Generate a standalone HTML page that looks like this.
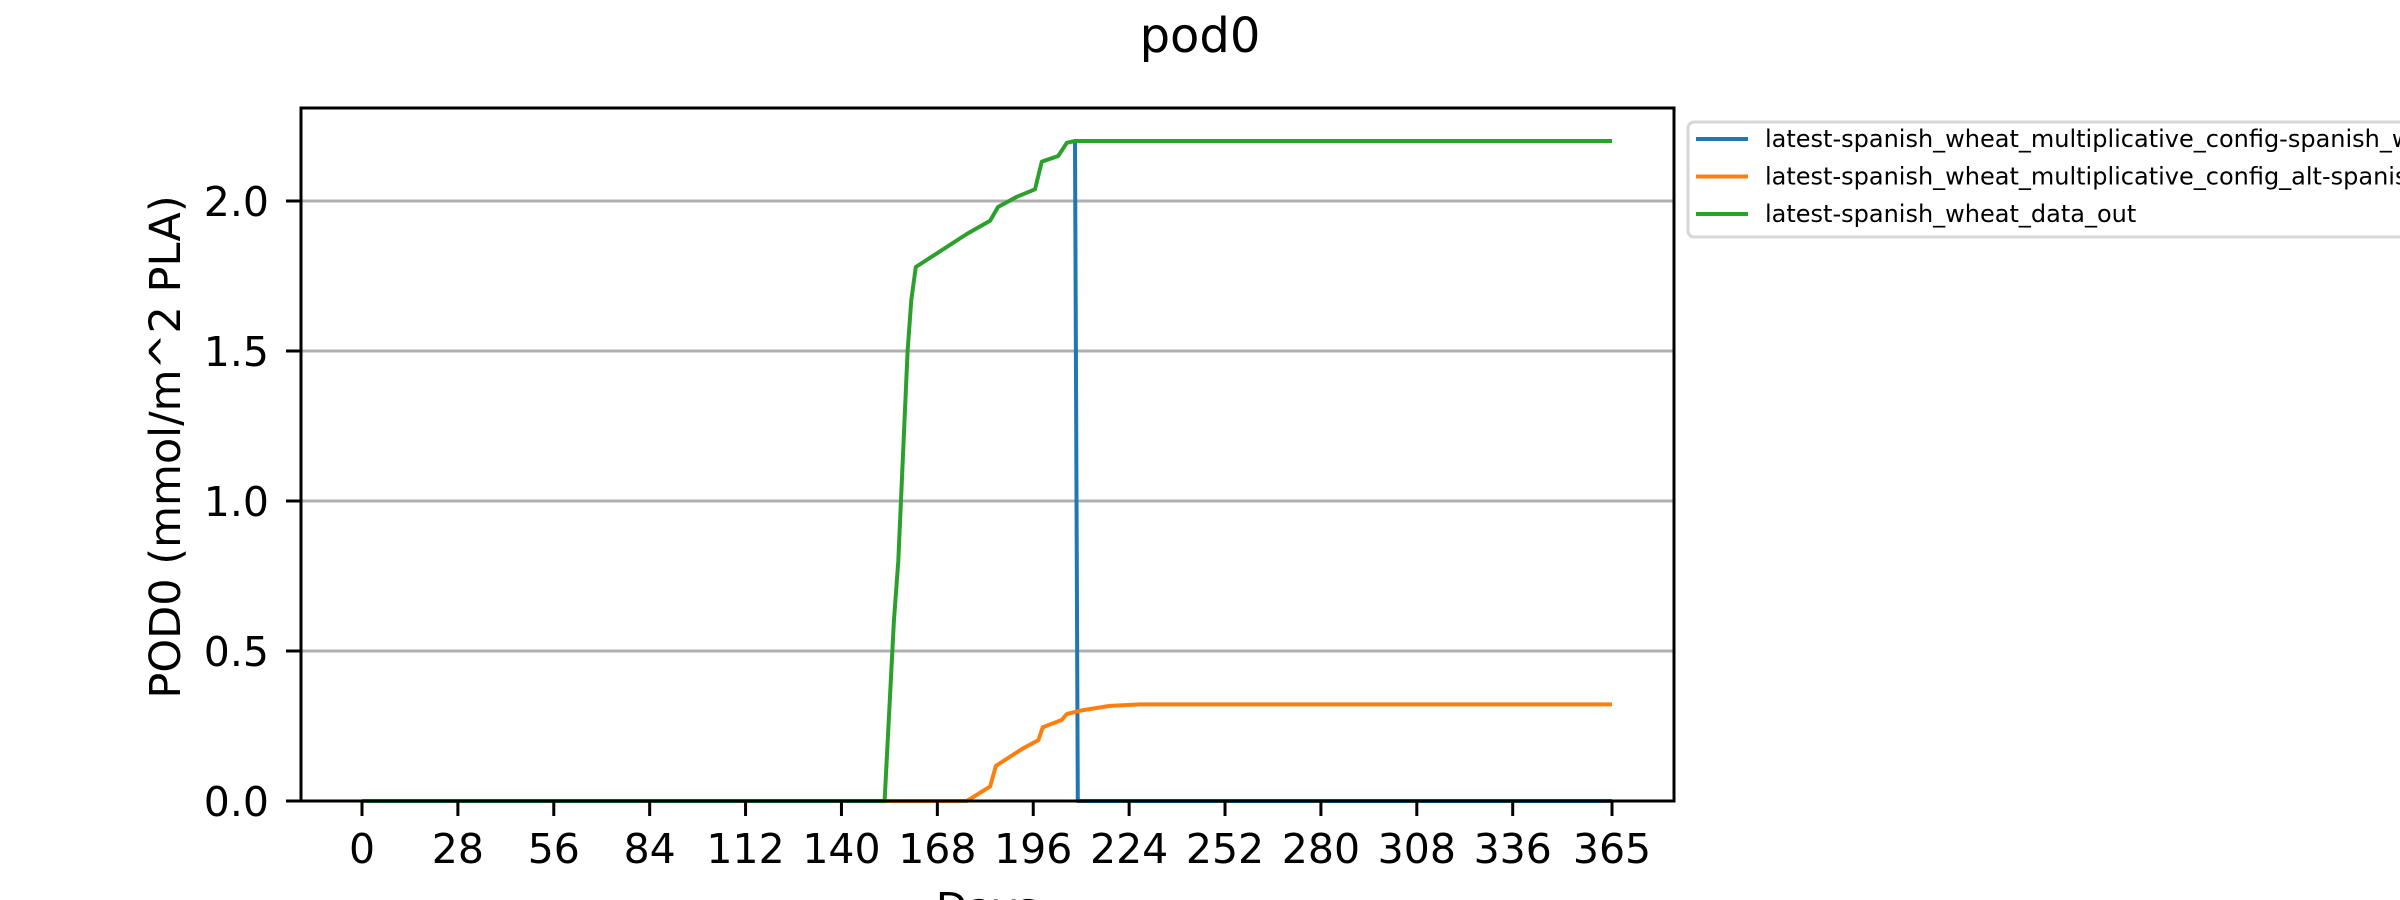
<!DOCTYPE html>
<html><head><meta charset="utf-8">
<style>
html,body{margin:0;padding:0;background:#fff;}
svg{display:block;font-family:"DejaVu Sans","Liberation Sans",sans-serif;}
</style></head>
<body>
<svg id="chart" width="2400" height="900" viewBox="0 0 2400 900">
  <rect width="2400" height="900" fill="#fff"/>
  <text x="1200" y="52" font-size="48" text-anchor="middle">pod0</text>
  <g id="grid"></g>
  <g id="series"></g>
  <rect x="301" y="108" width="1373" height="693" fill="none" stroke="#000" stroke-width="3"/>
  <g id="xticks"></g>
  <g id="yticks"></g>
  <text x="987" y="922" font-size="41" text-anchor="middle">Days</text>
  <text transform="translate(180,447) rotate(-90)" font-size="43" text-anchor="middle">POD0 (mmol/m^2 PLA)</text>
  <g>
    <rect x="1688" y="122" width="760" height="115" rx="6" fill="#fff" stroke="#d6d6d6" stroke-width="3"/>
    <g id="legend"></g>
  </g>
</svg>
<script>
const xTickVals = [0,28,56,84,112,140,168,196,224,252,280,308,336,365];
const yTickVals = [0,0.5,1.0,1.5,2.0];
const yTickLabels = ["0.0","0.5","1.0","1.5","2.0"];
const seriesNames = ["latest-spanish_wheat_multiplicative_config-spanish_wheat","latest-spanish_wheat_multiplicative_config_alt-spanish_wheat","latest-spanish_wheat_data_out"];
const seriesColors = ["#1f77b4","#ff7f0e","#2ca02c"];
const blueDays = [208.2,209,365];
const blueVals = [2.2,0,0];
const orangeDays = [0,176.6,183.4,185.1,193.1,197.5,198.8,204.3,205.8,210.6,218.4,227.2,365];
const orangeVals = [0,0,0.048,0.117,0.176,0.203,0.246,0.27,0.29,0.303,0.317,0.322,0.322];
const greenDays = [0,152.6,155.3,156.6,159.3,160.4,161.7,176.6,183.4,185.7,191.2,196.5,198.5,203.3,205.8,208.2,365];
const greenVals = [0,0,0.6,0.8,1.5,1.67,1.78,1.89,1.934,1.98,2.014,2.039,2.131,2.15,2.194,2.2,2.2];

const NS="http://www.w3.org/2000/svg";
function xs(d){return 362+d*3.4247;}
function ys(v){return 801-v*300;}
function mk(tag,attrs,parent){const e=document.createElementNS(NS,tag);for(const k in attrs)e.setAttribute(k,attrs[k]);parent.appendChild(e);return e;}

const grid=document.getElementById('grid'), yt=document.getElementById('yticks'), xt=document.getElementById('xticks');
yTickVals.forEach((v,i)=>{
  const y=ys(v);
  const g=mk('line',{x1:301,x2:1674,y1:y,y2:y,stroke:'#b0b0b0','stroke-width':3},grid);
  
  
  const t=mk('line',{x1:286,x2:301,y1:y,y2:y,stroke:'#000','stroke-width':3},yt);
  
  
  const l=mk('text',{x:269,y:y+15,'font-size':41,'text-anchor':'end'},yt);
  l.textContent=yTickLabels[i];
  
  
});
xTickVals.forEach(v=>{
  const x=xs(v);
  const t=mk('line',{x1:x,x2:x,y1:801,y2:816,stroke:'#000','stroke-width':3},xt);
  
  
  const l=mk('text',{x:x,y:863,'font-size':41,'text-anchor':'middle'},xt);
  l.textContent=String(v);
  
  
});
const ser=document.getElementById('series');
const all=[[blueDays,blueVals],[orangeDays,orangeVals],[greenDays,greenVals]];
const order=[0,1,2];
const snames=['series-spanish-wheat','series-alt-spanish-wheat','series-data-out'];
order.forEach(i=>{
  const [d,v]=all[i];
  const pts=d.map((dd,k)=>xs(dd).toFixed(1)+','+ys(v[k]).toFixed(1)).join(' ');
  const p=mk('polyline',{points:pts,fill:'none',stroke:seriesColors[i],'stroke-width':4,'stroke-linejoin':'round'},ser);
  
  
});
const lg=document.getElementById('legend');
seriesNames.forEach((n,i)=>{
  const y=139+i*37.5;
  const ln=mk('line',{x1:1696,x2:1748,y1:y,y2:y,stroke:seriesColors[i],'stroke-width':4},lg);
  
  
  const t=mk('text',{x:1765,y:y+8,'font-size':24},lg);
  t.textContent=n;
  
  
});
</script>
</body></html>
